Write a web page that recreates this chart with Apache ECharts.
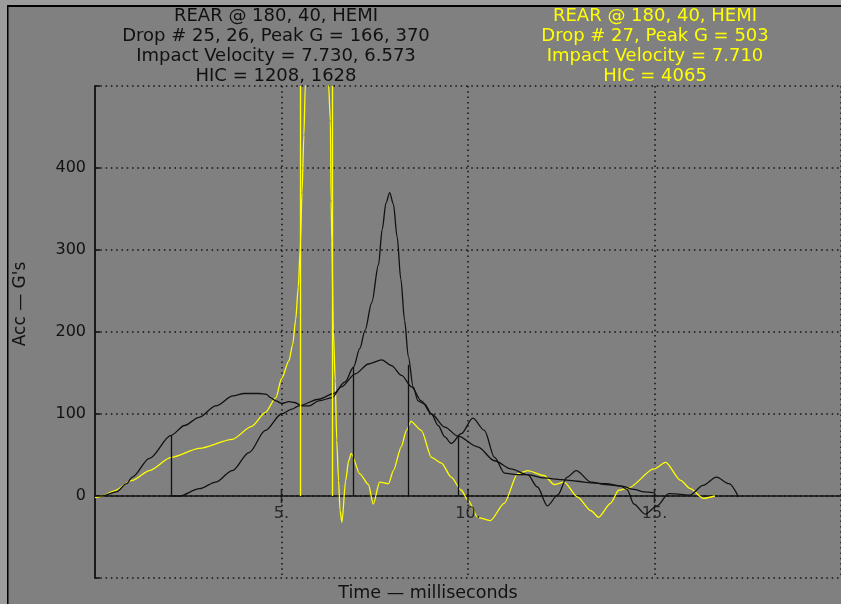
<!DOCTYPE html>
<html>
<head>
<meta charset="utf-8">
<script src="https://cdn.jsdelivr.net/npm/echarts@6/dist/echarts.min.js"></script>
<style>html,body{margin:0;padding:0;background:#808080;}#c{width:841px;height:604px;}</style>
</head>
<body>
<div id="c"></div>
<script>
// ---- data (time in ms, acceleration in G) ----
var drop25 = [[0.0,0],[0.2,0],[0.57,5],[0.85,15],[1.0,23],[1.46,46],[2.04,74],[2.4,86],[2.79,96],[3.24,110],[3.7,122],[4.0,125],[4.4,125],[4.6,124],[4.7,120],[4.85,116],[5.0,113],[5.2,115],[5.35,114],[5.55,110],[5.75,110],[6.0,116],[6.36,120],[6.6,133],[6.98,149],[7.33,161],[7.69,166],[7.95,159],[8.22,147],[8.49,133],[8.75,116],[9.02,100],[9.38,84],[9.73,73],[10.26,60],[10.71,43],[11.15,33],[11.6,26],[12.04,22],[12.5,20],[12.93,18],[13.3,16],[13.7,15],[14.13,12],[14.45,8],[14.72,5],[14.98,4]];
var drop26 = [[2.04,0],[2.26,0],[2.8,9],[3.24,17],[3.68,31],[4.13,53],[4.57,80],[5.0,100],[5.28,106],[5.46,110],[6.0,118],[6.4,125],[6.7,139],[6.93,157],[7.1,180],[7.24,202],[7.42,236],[7.6,282],[7.7,325],[7.8,357],[7.9,370],[8.0,356],[8.1,316],[8.2,264],[8.3,214],[8.4,170],[8.53,133],[8.66,116],[8.84,112],[9.02,100],[9.2,86],[9.38,72],[9.55,64],[9.82,76],[10.13,95],[10.44,80],[10.71,47],[10.98,28],[11.3,26],[11.6,26],[11.86,11],[12.13,-12],[12.4,1],[12.66,23],[12.9,31],[13.3,17],[13.7,14],[14.1,12],[14.26,8],[14.45,-10],[14.75,-22],[15.07,-12],[15.38,3],[15.7,2],[15.95,1],[16.3,13],[16.66,23],[17.0,15],[17.25,-1]];
var drop27 = [[0,-2],[0.2,0],[0.5,6],[1.0,19],[1.46,31],[2.04,47],[2.8,58],[3.68,69],[4.2,85],[4.57,102],[4.85,120],[5.0,143],[5.2,165],[5.3,185],[5.38,215],[5.45,255],[5.5,300],[5.55,370],[5.6,440],[5.64,503],[5.95,503],[6.26,503],[6.31,458],[6.33,360],[6.35,311],[6.39,202],[6.44,141],[6.48,68],[6.53,19],[6.57,-18],[6.62,-32],[6.72,19],[6.8,43],[6.87,52],[7.1,27],[7.33,14],[7.46,-10],[7.63,17],[7.87,15],[8.0,31],[8.21,60],[8.35,80],[8.47,91],[8.75,80],[9.02,47],[9.29,40],[9.55,23],[9.82,7],[10.0,-5],[10.26,-26],[10.6,-30],[10.97,-9],[11.33,27],[11.6,31],[12.04,25],[12.31,14],[12.58,17],[12.93,-1],[13.3,-18],[13.5,-26],[13.82,-9],[14.04,7],[14.31,10],[14.98,33],[15.3,41],[15.7,19],[15.96,9],[16.31,-3],[16.62,0]];
// HIC window markers [time, G]
var hic25 = [[2.04,74],[9.73,73]];
var hic26 = [[6.93,157],[8.41,160]];
var hic27 = [[5.515,500],[6.355,500]];
// axis ticks
var xTicks = [5, 10, 15];
var xTickLabels = {5:'5.', 10:'10.', 15:'15.'};
var yTickLabels = [0, 100, 200, 300, 400];
// header text
var headBlack = ['REAR @ 180, 40, HEMI','Drop # 25, 26, Peak G = 166, 370','Impact Velocity = 7.730, 6.573','HIC = 1208, 1628'];
var headYellow = ['REAR @ 180, 40, HEMI','Drop # 27, Peak G = 503','Impact Velocity = 7.710','HIC = 4065'];

var FONT = 'DejaVu Sans';
var BLACK = '#111111', YEL = '#ffff00';

function hicLines(arr){
  return arr.map(function(p){ return [{coord:[p[0],0]},{coord:[p[0],p[1]]}]; });
}
function headText(lines, cx, color){
  var ys = [16.5, 36.5, 56.5, 76.5];
  return lines.map(function(s,i){
    return {type:'text', style:{text:s, x:cx, y:ys[i], align:'center', verticalAlign:'middle', fill:color, font:'18px "'+FONT+'"'}};
  });
}

var chart = echarts.init(document.getElementById('c'), null, {renderer:'canvas'});
var option = {
  backgroundColor:'#808080',
  animation:false,
  grid:{left:95, top:86, width:750, height:492},
  xAxis:{type:'value', min:0, max:20, interval:5,
    axisLine:{onZero:true, lineStyle:{color:BLACK, width:1.5}},
    axisTick:{show:false},
    axisLabel:{show:false},
    splitLine:{show:true, lineStyle:{color:'#111', width:1.5, type:[1.5,3.8]}}
  },
  yAxis:{type:'value', min:-100, max:500, interval:100,
    axisLine:{onZero:false, lineStyle:{color:'#1a1a1a', width:2}},
    axisTick:{show:true, inside:true, length:5, lineStyle:{color:BLACK, width:1.5}},
    axisLabel:{color:BLACK, fontFamily:FONT, fontSize:16, margin:9,
      formatter:function(v){ return yTickLabels.indexOf(v) >= 0 ? String(v) : ''; }},
    splitLine:{show:true, lineStyle:{color:'#111', width:1.5, type:[1.5,3.8]}}
  },
  series:[
    {type:'line', data:drop27, symbol:'none', smooth:0.25, smoothMonotone:'x', clip:true,
      lineStyle:{color:YEL, width:1.3}, z:3,
      markLine:{silent:true, symbol:'none', label:{show:false}, lineStyle:{color:YEL, width:1.3, type:'solid'}, data:hicLines(hic27)}},
    {type:'line', data:drop25, symbol:'none', smooth:0.3, smoothMonotone:'x', clip:true,
      lineStyle:{color:BLACK, width:1.3}, z:4,
      markLine:{silent:true, symbol:'none', label:{show:false}, lineStyle:{color:BLACK, width:1.3, type:'solid'}, data:hicLines(hic25)}},
    {type:'line', data:drop26, symbol:'none', smooth:0.3, smoothMonotone:'x', clip:true,
      lineStyle:{color:BLACK, width:1.3}, z:4,
      markLine:{silent:true, symbol:'none', label:{show:false}, lineStyle:{color:BLACK, width:1.3, type:'solid'}, data:hicLines(hic26)}},
    {type:'scatter', data:xTicks.map(function(t){return [t,0];}), symbol:'rect', symbolSize:[1.6,14],
      itemStyle:{color:BLACK}, silent:true, z:5,
      label:{show:true, position:'bottom', distance:3, color:BLACK, fontFamily:FONT, fontSize:16,
        formatter:function(p){ return xTickLabels[p.value[0]]; }}}
  ],
  graphic:[
    {type:'rect', shape:{x:0,y:0,width:841,height:5}, style:{fill:'#9c9c9c'}, silent:true},
    {type:'rect', shape:{x:0,y:0,width:7,height:604}, style:{fill:'#9c9c9c'}, silent:true},
    {type:'rect', shape:{x:7,y:5,width:834,height:2}, style:{fill:'#000'}, silent:true},
    {type:'rect', shape:{x:7,y:5,width:1.5,height:599}, style:{fill:'#000'}, silent:true},
    {type:'text', style:{text:'Time — milliseconds', x:428, y:593, align:'center', verticalAlign:'middle', fill:BLACK, font:'17.5px "'+FONT+'"'}},
    {type:'text', rotation:Math.PI/2, x:21, y:304, style:{text:'Acc — G\'s', x:0, y:0, align:'center', verticalAlign:'middle', fill:BLACK, font:'17px "'+FONT+'"'}}
  ].concat(headText(headBlack, 276, BLACK)).concat(headText(headYellow, 655, YEL))
};
chart.setOption(option);
</script>
</body>
</html>
